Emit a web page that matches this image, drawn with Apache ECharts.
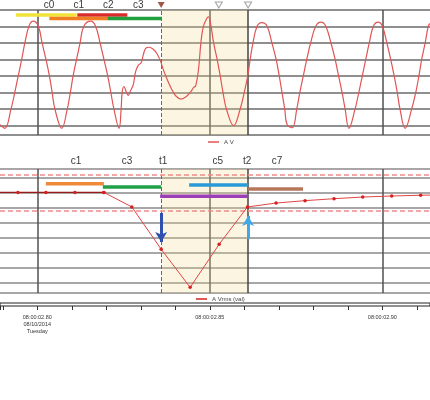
<!DOCTYPE html>
<html>
<head>
<meta charset="utf-8">
<script src="https://cdn.jsdelivr.net/npm/echarts/dist/echarts.min.js"></script>
<style>
html,body{margin:0;padding:0;background:#ffffff;}
#chart{width:430px;height:400px;}
</style>
</head>
<body>
<div id="chart"></div>
<script>
// Time values are in ms after 08:00:02.80 (08/10/2014)
const waveTime = [
-10.8,-9.4,-7.6,-6.5,-5.5,-4.5,-3.6,-2.4,-1.2,0.3,
1.4,2.5,3.5,4.3,5.1,7.1,8.7,9.6,10.4,11.4,
12.4,13.5,15.5,16.9,18.2,19.3,20.4,21.3,22.2,23.7,
24.3,24.6,25.1,25.9,26.4,26.9,27.8,28.5,29.3,30.1,
30.7,31.4,32.4,33.6,34.6,35.6,36.5,37.5,38.8,40.1,
41.7,43.0,44.3,45.4,45.9,46.7,47.4,48.1,49.1,49.6,
50.3,51.1,52.1,53.0,53.8,54.8,56.9,58.8,60.0,61.0,
61.7,62.5,63.7,65.1,66.6,68.0,69.2,70.1,70.9,71.7,
72.4,73.9,75.2,76.1,77.1,78.1,79.2,80.7,82.2,83.6,
85.1,86.3,87.3,88.3,89.2,90.3,92.1,93.2,94.2,95.2,
96.2,97.4,98.8,100.0,101.3,102.4,103.4,104.3,105.1,106.6,
108.5,109.7,110.6,111.4,112.4,113.3,113.8];
const waveVolt = [
-148,-159,-100,-49,1,51,100,151,166,151,
100,51,1,-49,-100,-159,-100,-49,1,51,
100,151,166,151,100,51,1,-49,-100,-159,
-100,-49,-32,-51,-59,-47,-27,13,33,40,
63,84,87,81,69,48,20,-7,-37,-60,
-70,-64,-50,-34,-30,18,99,149,174,179,
154,100,51,1,-49,-100,-151,-100,-49,1,
51,100,151,162,151,100,51,1,-49,-100,
-148,-157,-100,-49,1,51,100,151,163,151,
100,51,1,-49,-100,-159,-100,-49,1,51,
100,151,163,151,100,51,1,-49,-100,-159,
-100,-49,1,51,100,151,159];

const rmsTime  = [-13.9,-5.6,2.5,10.9,19.3,27.4,35.9,44.3,52.7,60.9,69.2,77.6,86.0,94.3,102.7,111.1,119.4];
const rmsValue = [100.4,100.4,100.4,100.4,100.4,90.7,62.5,37.1,65.8,90.7,93.3,94.9,96.2,97.3,98.0,98.5,98.8];
const rmsPreEventCount = 5;
const rmsLimits = [112, 88.2];

const xTickValues = [0, 50, 100];
const xTickLabels = ['08:00:02.80\n08/10/2014\nTuesday', '08:00:02.85', '08:00:02.90'];

const cursorT1 = 35.9;
const cursorT2 = 61.1;

const topCycleNames = ['c0','c1','c2','c3'];
const topCycleTimes = [3.4, 12.0, 20.6, 29.3];
const topLabelLevel = 215;
const bottomCursorNames = ['c1','c3','t1','c5','t2','c7'];
const bottomCursorTimes = [11.2, 26.0, 36.5, 52.3, 60.8, 69.5];
const bottomLabelLevel = 121.3;
const markerTimes = [35.9, 52.6, 61.1];

const topWindowStart = [-6.2, 11.6, 3.5, 20.3];
const topWindowEnd   = [11.4, 26.1, 20.3, 36.1];
const topWindowLevel = [185, 185, 174, 174];
const bottomWindowStart = [2.5, 19.0, 44.0, 35.6, 61.1];
const bottomWindowEnd   = [19.3, 35.9, 61.1, 61.1, 77.0];
const bottomWindowLevel = [106.2, 104.0, 105.3, 97.8, 102.7];

const arrowTime = [35.9, 61.1];
const arrowFrom = [86.7, 69.3];
const arrowTo   = [67.3, 84.7];

// styles
const topWindowColors = ['#f2e33a', '#d82c2c', '#f07d22', '#1fa03c'];
const bottomWindowColors = ['#f08a3a', '#22a048', '#2a9ad8', '#9a3fb5', '#b5765a'];
const arrowColors = ['#3050b0', '#40a8e8'];
const FONT = 'Liberation Sans, Arial, sans-serif';

const zip = (a, b) => a.map((v, i) => [v, b[i]]);
const XMIN = -10.8, XMAX = 113.8;

const chart = echarts.init(document.getElementById('chart'), null, {renderer: 'canvas', width: 430, height: 400});

const hiddenAxis = {show: true, axisLine: {show: false}, axisTick: {show: false}, axisLabel: {show: false}};

const shade = {
  silent: true,
  itemStyle: {color: 'rgba(245,215,140,0.26)'},
  data: [[{xAxis: cursorT1}, {xAxis: cursorT2}]]
};
const cursorLines = [
  {xAxis: cursorT1, lineStyle: {color: '#d83a3a', type: [4, 2], width: 1}},
  {xAxis: cursorT2, lineStyle: {color: '#444444', type: 'solid', width: 1.5}}
];

const series = [];

series.push({
  name: 'A V', type: 'line', xAxisIndex: 0, yAxisIndex: 0,
  data: zip(waveTime, waveVolt), smooth: 0.4, showSymbol: false, symbol: 'none',
  color: '#e05555', lineStyle: {color: '#e05555', width: 1.2}, z: 5,
  markArea: shade,
  markLine: {silent: true, symbol: ['none', 'none'], label: {show: false}, data: cursorLines}
});

topWindowStart.forEach((s, i) => {
  series.push({
    type: 'line', xAxisIndex: 0, yAxisIndex: 0, silent: true, symbol: 'none', showSymbol: false,
    data: [[s, topWindowLevel[i]], [topWindowEnd[i], topWindowLevel[i]]],
    lineStyle: {color: topWindowColors[i], width: 3.5, cap: 'butt'}, z: 6
  });
});

const rmsPairs = zip(rmsTime, rmsValue);
series.push({
  name: 'A Vrms (val)', type: 'line', xAxisIndex: 1, yAxisIndex: 1,
  data: rmsPairs.slice(rmsPreEventCount - 1), symbol: 'circle', symbolSize: 3.5, showSymbol: true,
  color: '#e04545', itemStyle: {color: '#d42020'}, lineStyle: {color: '#e04545', width: 1}, z: 5,
  markArea: shade,
  markLine: {
    silent: true, symbol: ['none', 'none'], label: {show: false}, symbolSize: [9, 10],
    data: cursorLines.concat(
      rmsLimits.map(v => ({yAxis: v, lineStyle: {color: '#f08a8a', type: [5, 3], width: 1.5}})),
      arrowTime.map((t, i) => [
        {coord: [t, arrowFrom[i]], symbol: 'none', lineStyle: {color: arrowColors[i], width: 3, type: 'solid'}},
        {coord: [t, arrowTo[i]], symbol: 'arrow'}
      ])
    )
  }
});
series.push({
  name: 'A Vrms (val)', type: 'line', xAxisIndex: 1, yAxisIndex: 1,
  data: rmsPairs.slice(0, rmsPreEventCount), symbol: 'circle', symbolSize: 3.5, showSymbol: true,
  color: '#9a1a1a', itemStyle: {color: '#d42020'}, lineStyle: {color: '#9a1a1a', width: 1.2}, z: 5
});

bottomWindowStart.forEach((s, i) => {
  series.push({
    type: 'line', xAxisIndex: 1, yAxisIndex: 1, silent: true, symbol: 'none', showSymbol: false,
    data: [[s, bottomWindowLevel[i]], [bottomWindowEnd[i], bottomWindowLevel[i]]],
    lineStyle: {color: bottomWindowColors[i], width: 3.5, cap: 'butt'}, z: 6
  });
});

const labelSeries = (xi, times, names, level) => ({
  type: 'scatter', xAxisIndex: xi, yAxisIndex: xi, clip: false, silent: true,
  symbolSize: 1, itemStyle: {color: 'transparent'},
  data: times.map((t, i) => ({value: [t, level], name: names[i]})),
  label: {show: true, position: 'inside', formatter: p => p.name, fontSize: 10, color: '#000', fontFamily: FONT},
  z: 7
});
series.push(labelSeries(0, topCycleTimes, topCycleNames, topLabelLevel));
series.push(labelSeries(1, bottomCursorTimes, bottomCursorNames, bottomLabelLevel));

series.push({
  type: 'scatter', xAxisIndex: 0, yAxisIndex: 0, clip: false, silent: true,
  symbol: 'triangle', symbolRotate: 180, symbolSize: [7, 6],
  data: markerTimes.map((t, i) => ({
    value: [t, topLabelLevel],
    itemStyle: i === 0 ? {color: '#8a2a18'} : {color: '#ffffff', borderColor: '#8c8c8c', borderWidth: 1}
  })),
  z: 7
});

const option = {
  animation: false,
  backgroundColor: '#ffffff',
  legend: [
    {data: ['A V'], left: 208, top: 139, padding: 0, icon: 'rect', itemWidth: 11, itemHeight: 1.5,
     textStyle: {fontSize: 6, color: '#444', fontFamily: FONT}, selectedMode: false},
    {data: ['A Vrms (val)'], left: 196, top: 296, padding: 0, icon: 'rect', itemWidth: 11, itemHeight: 1.5,
     textStyle: {fontSize: 6, color: '#444', fontFamily: FONT}, selectedMode: false}
  ],
  grid: [
    {left: 0, right: 0, top: 10, height: 125, containLabel: false, outerBoundsMode: 'none'},
    {left: 0, right: 0, top: 169, height: 124, containLabel: false, outerBoundsMode: 'none'},
    {left: 0, right: 0, top: 303, height: 3, containLabel: false, outerBoundsMode: 'none',
     show: true, borderColor: '#222', borderWidth: 1, backgroundColor: '#ffffff'}
  ],
  xAxis: [
    Object.assign({type: 'value', gridIndex: 0, min: XMIN, max: XMAX, splitNumber: 2,
      splitLine: {show: true, showMinLine: false, showMaxLine: false, lineStyle: {color: '#505050', width: 1.5}}}, hiddenAxis),
    Object.assign({type: 'value', gridIndex: 1, min: XMIN, max: XMAX, splitNumber: 2,
      splitLine: {show: true, showMinLine: false, showMaxLine: false, lineStyle: {color: '#505050', width: 1.5}}}, hiddenAxis),
    {type: 'value', gridIndex: 2, min: XMIN, max: XMAX, splitNumber: 12, position: 'bottom',
      axisLine: {show: false}, splitLine: {show: false},
      axisTick: {show: true, length: 4, lineStyle: {color: '#333', width: 1}},
      axisLabel: {show: true, margin: 8, fontSize: 5.5, lineHeight: 7, color: '#333', fontFamily: FONT,
        showMinLabel: true, showMaxLabel: true,
        formatter: v => {
          const k = xTickValues.findIndex(x => Math.abs(x - v) < 1e-6);
          return k >= 0 ? xTickLabels[k] : '';
        }}}
  ],
  yAxis: [
    Object.assign({type: 'value', gridIndex: 0, min: -179, max: 200, splitNumber: 8,
      splitLine: {show: true, lineStyle: {color: '#6a6a6a', width: 1.5}}}, hiddenAxis),
    Object.assign({type: 'value', gridIndex: 1, min: 33.333, max: 116, splitNumber: 8,
      splitLine: {show: true, lineStyle: {color: '#8a8a8a', width: 1.5}}}, hiddenAxis),
    {type: 'value', gridIndex: 2, min: 0, max: 1, show: false}
  ],
  series: series
};

chart.setOption(option);
</script>
</body>
</html>
